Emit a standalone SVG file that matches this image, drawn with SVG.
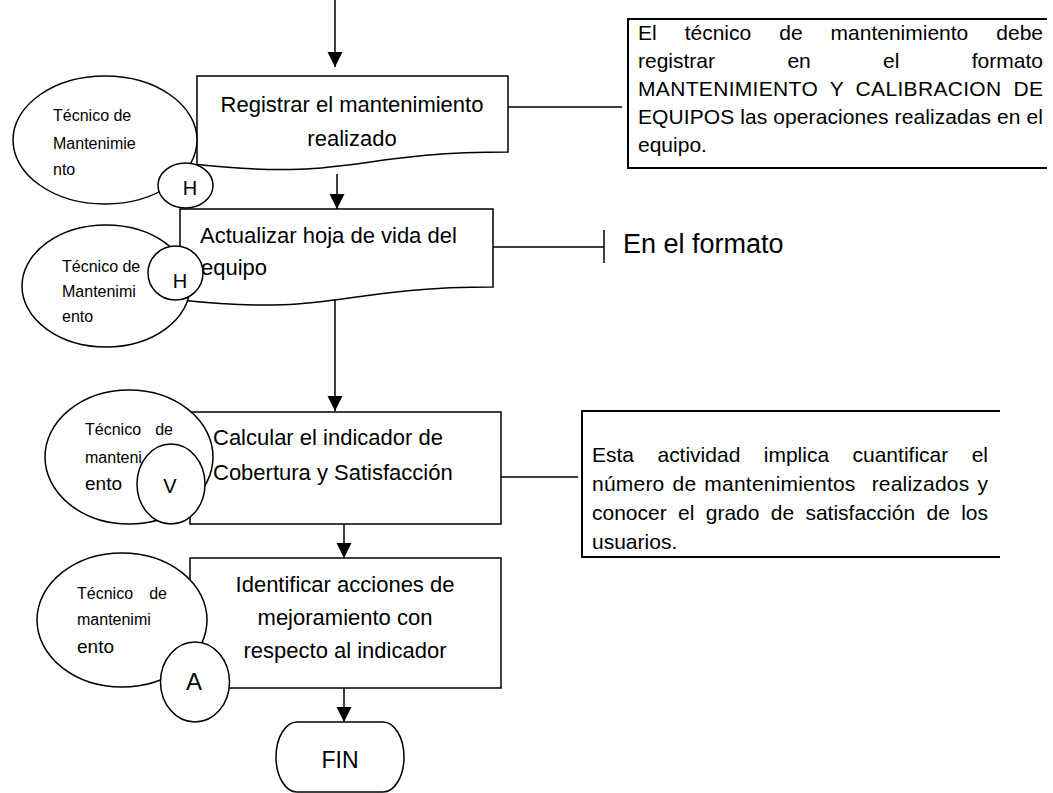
<svg xmlns="http://www.w3.org/2000/svg" width="1053" height="793" viewBox="0 0 1053 793">
<defs>
<marker id="arrow" markerUnits="userSpaceOnUse" markerWidth="16" markerHeight="16" refX="15" refY="7.5" orient="auto"><path d="M0,0 L15,7.5 L0,15 Z" fill="#000"/></marker>
<style>
.shape{fill:#fff;stroke:#000;stroke-width:1.5}
.line{fill:none;stroke:#000;stroke-width:1.5}
.nb{fill:none;stroke:#000;stroke-width:2}
.t{font-family:"Liberation Sans",Arial,sans-serif;fill:#000}
.box{font-size:22px}
.mid{text-anchor:middle}
.role{font-size:16px}
.big{font-size:19px}
.note{font-size:21px}
.mark{font-size:20px;text-anchor:middle}
</style>
</defs>
<rect width="1053" height="793" fill="#fff"/>

<g id="step1">
<path class="shape" d="M197,76 H508 V152 C352.5,152 352.5,181 197,164.5 Z"/>
<text class="t box mid" x="352" y="112">Registrar el mantenimiento</text>
<text class="t box mid" x="352" y="146">realizado</text>
</g>
<g id="step2">
<path class="shape" d="M180,209 H493 V287 C336.5,287 336.5,316.8 180,300 Z"/>
<text class="t box" x="200" y="243">Actualizar hoja de vida del</text>
<text class="t box" x="201" y="275">equipo</text>
</g>
<g id="step3">
<rect class="shape" x="190" y="412" width="311" height="112"/>
<text class="t box" x="213" y="445">Calcular el indicador de</text>
<text class="t box" x="213" y="480">Cobertura y Satisfacción</text>
</g>
<g id="step4">
<rect class="shape" x="190" y="558" width="311" height="130"/>
<text class="t box mid" x="345" y="592">Identificar acciones de</text>
<text class="t box mid" x="345" y="625">mejoramiento con</text>
<text class="t box mid" x="345" y="658">respecto al indicador</text>
</g>
<g id="fin">
<rect class="shape" x="276" y="722" width="128" height="70" rx="21" ry="35"/>
<text class="t mid" style="font-size:23px" x="340" y="768">FIN</text>
</g>

<g id="role1">
<ellipse class="shape" cx="105" cy="140" rx="92" ry="64"/>
<text class="t role" x="53" y="121">Técnico de</text>
<text class="t role" x="53" y="149">Mantenimie</text>
<text class="t role" x="53" y="175">nto</text>
</g>
<g id="role2">
<ellipse class="shape" cx="106" cy="286" rx="84" ry="61"/>
<text class="t role" x="62" y="272">Técnico de</text>
<text class="t role" x="62" y="297">Mantenimi</text>
<text class="t role" x="62" y="322">ento</text>
</g>
<g id="role3">
<ellipse class="shape" cx="129" cy="457" rx="84" ry="67"/>
<text class="t role" x="85" y="435">Técnico</text>
<text class="t role" x="173" y="435" text-anchor="end">de</text>
<text class="t role" x="85" y="463">manteni</text>
<text class="t big" x="85" y="490">ento</text>
</g>
<g id="role4">
<ellipse class="shape" cx="122" cy="620" rx="85" ry="67"/>
<text class="t role" x="77" y="599">Técnico</text>
<text class="t role" x="167" y="599" text-anchor="end">de</text>
<text class="t role" x="77" y="625">mantenimi</text>
<text class="t big" x="77" y="653">ento</text>
</g>

<g id="mark1">
<ellipse class="shape" cx="185.5" cy="185.5" rx="27.5" ry="22.5"/>
<text class="t mark" x="190" y="195">H</text>
</g>
<g id="mark2">
<ellipse class="shape" cx="175.5" cy="273" rx="27.5" ry="27"/>
<text class="t mark" x="180" y="288">H</text>
</g>
<g id="mark3">
<ellipse class="shape" cx="171" cy="484" rx="34" ry="40"/>
<text class="t mark" x="170" y="493">V</text>
</g>
<g id="mark4">
<ellipse class="shape" cx="195" cy="682" rx="34.5" ry="40"/>
<text class="t mark" style="font-size:24px" x="194" y="690">A</text>
</g>

<g id="note1">
<path class="nb" d="M1047,19 H628 V168 H1047"/>
<text class="t note" x="638" y="40" word-spacing="22.2" textLength="405" lengthAdjust="spacing">El técnico de mantenimiento debe</text>
<text class="t note" x="638" y="68" word-spacing="66.5" textLength="405" lengthAdjust="spacing">registrar en el formato</text>
<text class="t note" x="638" y="96" word-spacing="5.8" textLength="405" lengthAdjust="spacing">MANTENIMIENTO Y CALIBRACION DE</text>
<text class="t note" x="638" y="124" textLength="405" lengthAdjust="spacing">EQUIPOS las operaciones realizadas en el</text>
<text class="t note" x="638" y="152">equipo.</text>
</g>
<g id="note2">
<path class="nb" d="M1000,411 H582 V557 H1000"/>
<text class="t note" x="592" y="462" word-spacing="17.6" textLength="396" lengthAdjust="spacing">Esta actividad implica cuantificar el</text>
<text class="t note" x="592" y="491" xml:space="preserve" word-spacing="2" textLength="396" lengthAdjust="spacing">número de mantenimientos  realizados y</text>
<text class="t note" x="592" y="520" word-spacing="5.5" textLength="396" lengthAdjust="spacing">conocer el grado de satisfacción de los</text>
<text class="t note" x="592" y="549">usuarios.</text>
</g>
<g id="note3">
<text class="t" style="font-size:27px" x="623" y="253">En el formato</text>
</g>

<g id="connectors">
<line class="line" x1="335" y1="0" x2="335" y2="67" marker-end="url(#arrow)"/>
<line class="line" x1="337" y1="174" x2="337" y2="209" marker-end="url(#arrow)"/>
<line class="line" x1="335" y1="300" x2="335" y2="411" marker-end="url(#arrow)"/>
<line class="line" x1="344" y1="524" x2="344" y2="558" marker-end="url(#arrow)"/>
<line class="line" x1="344" y1="688" x2="344" y2="722" marker-end="url(#arrow)"/>
<line class="line" x1="508" y1="107" x2="622" y2="107"/>
<line class="line" x1="493" y1="247" x2="604" y2="247"/>
<line class="line" x1="604" y1="230" x2="604" y2="263"/>
<line class="line" x1="501" y1="477" x2="578" y2="477"/>
</g>
</svg>
